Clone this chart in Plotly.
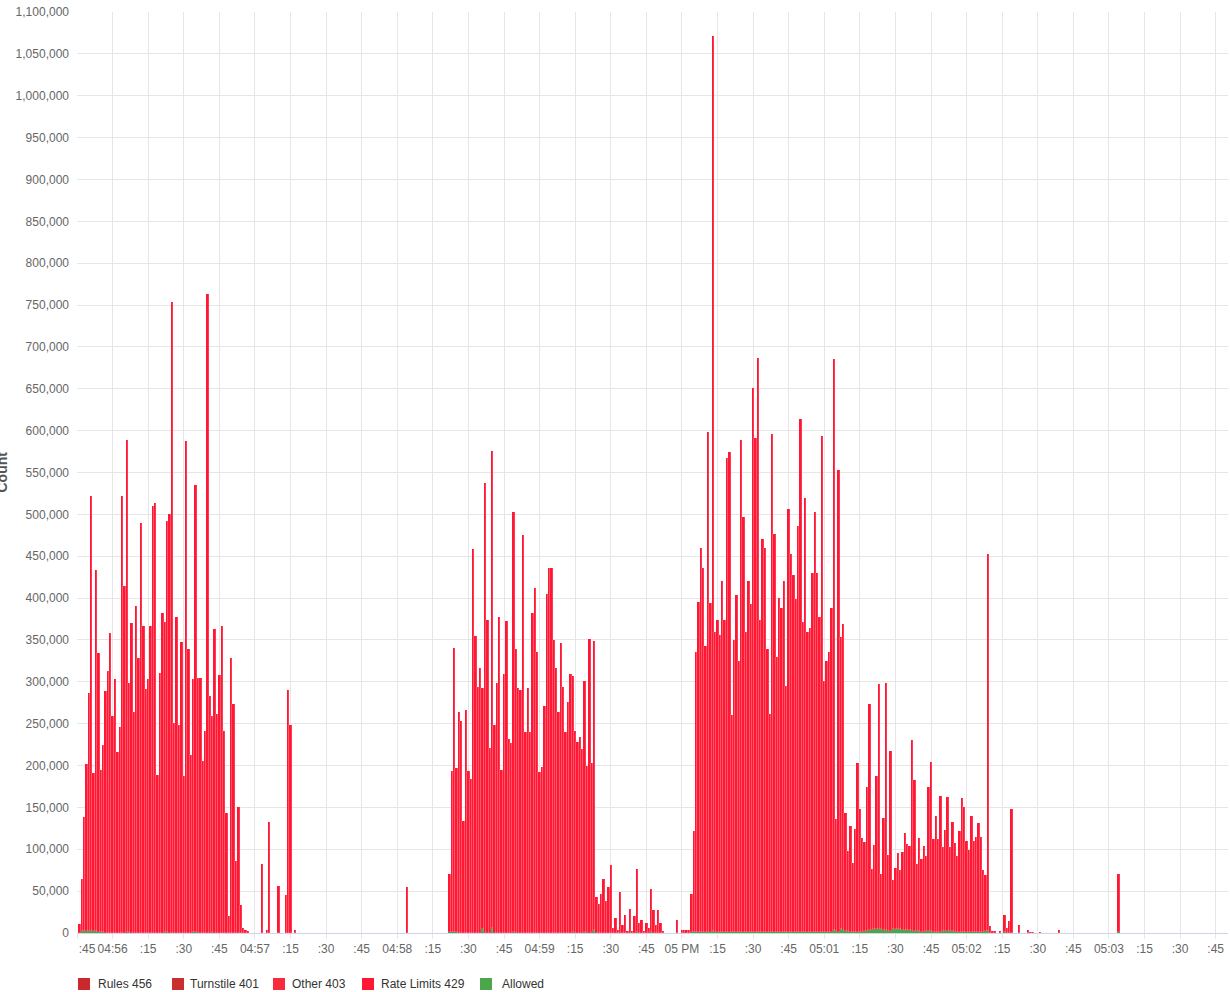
import plotly.graph_objects as go
from datetime import datetime, timedelta

DAY = "2024-01-01"
AXIS_START = "16:55:45"
AXIS_END_SECONDS = 485.2

# ---- per-second counts (each bar = 1 second) ----
C1_START = "16:55:46"
C1_TOTAL = [11000, 65000, 139000, 202000, 287000, 522000, 191000, 434000, 334000, 195000,
            225000, 289000, 313000, 358000, 259000, 303000, 216000, 246000, 522000, 415000,
            589000, 298000, 370000, 264000, 391000, 329000, 490000, 367000, 292000, 303000,
            367000, 510000, 514000, 189000, 311000, 382000, 371000, 492000, 500000, 754000,
            251000, 378000, 248000, 348000, 187000, 588000, 339000, 213000, 303000, 535000,
            304000, 304000, 206000, 241000, 763000, 283000, 259000, 363000, 262000, 308000,
            367000, 241000, 143000, 20000, 328000, 274000, 86000, 150000, 33000, 6000,
            3000, 2000]
C1_ALLOWED = [500, 1800, 2000, 2000, 1800, 2400, 2600, 2000, 1200, 1200,
              800, 600, 500, 600, 500, 400, 500, 600, 500, 400,
              800, 800, 500, 400, 400, 500, 400, 400, 500, 400,
              400, 400, 500, 400, 400, 400, 800, 800, 400, 400,
              500, 400, 400, 400, 400, 400, 400, 400, 800, 800,
              500, 400, 400, 400, 400, 500, 800, 400, 400, 400,
              400, 400, 300, 200, 400, 300, 200, 200, 100, 0,
              0, 0]

C2_START = "16:58:22"
C2_TOTAL = [71000, 193000, 340000, 197000, 264000, 253000, 134000, 266000, 193000, 184000,
            459000, 355000, 294000, 317000, 293000, 538000, 374000, 221000, 576000, 248000,
            299000, 377000, 195000, 309000, 373000, 232000, 227000, 503000, 339000, 293000,
            290000, 475000, 240000, 293000, 240000, 382000, 412000, 336000, 192000, 198000,
            271000, 405000, 436000, 436000, 350000, 317000, 264000, 346000, 294000, 240000,
            276000, 309000, 307000, 241000, 228000, 234000, 220000, 301000, 199000, 351000,
            203000, 349000]
C2_ALLOWED = [1200, 1300, 1200, 1100, 400, 400, 400, 400, 400, 400,
              400, 400, 400, 400, 4500, 400, 400, 400, 5500, 400,
              400, 400, 400, 400, 400, 400, 400, 1500, 400, 400,
              400, 400, 400, 400, 400, 400, 400, 400, 400, 400,
              400, 400, 400, 400, 400, 400, 400, 400, 400, 400,
              400, 400, 800, 400, 400, 400, 400, 1000, 400, 400,
              1000, 3500]

C2_TAIL_START = "16:59:24"
C2_TAIL_TOTAL = [43000, 35000, 47000, 65000, 38000, 55000, 81000, 6000, 18000, 4000,
                 49000, 10000, 22000, 2000, 29000, 2000, 20000, 76000, 12000, 16000,
                 2000, 12000, 6000, 53000, 28000, 9000, 28000, 12000, 2000, 600,
                 600, 600, 600, 600, 16000, 600, 4000, 4000, 4000, 4000]
C2_TAIL_ALLOWED = [300, 300, 300, 400, 300, 300, 300, 100, 200, 100,
                   300, 100, 200, 0, 200, 0, 200, 1000, 100, 200,
                   0, 100, 100, 1000, 200, 100, 200, 100, 0, 0,
                   0, 0, 0, 0, 600, 0, 200, 200, 200, 200]

C3_START = "17:00:04"
C3_TOTAL = [47000, 122000, 336000, 395000, 460000, 436000, 343000, 598000, 394000, 1071000,
            360000, 374000, 356000, 420000, 374000, 567000, 574000, 260000, 350000, 404000,
            325000, 589000, 497000, 360000, 420000, 393000, 651000, 591000, 687000, 374000,
            470000, 460000, 339000, 262000, 596000, 477000, 330000, 400000, 388000, 421000,
            295000, 506000, 453000, 427000, 399000, 486000, 614000, 371000, 520000, 360000,
            364000, 430000, 503000, 430000, 378000, 594000, 301000, 325000, 336000, 388000,
            685000, 136000, 553000, 353000, 369000, 143000, 98000, 128000, 84000, 124000,
            203000, 148000, 114000, 109000, 174000, 274000, 76000, 105000, 188000, 297000,
            70000, 137000, 298000, 93000, 217000, 63000, 78000, 96000, 75000, 97000,
            120000, 106000, 104000, 230000, 183000, 83000, 113000, 88000, 104000, 92000,
            174000, 204000, 112000, 140000, 112000, 164000, 103000, 123000, 163000, 103000,
            132000, 107000, 92000, 122000, 161000, 151000, 110000, 99000, 140000, 110000,
            115000, 131000, 115000, 75000, 69000, 453000]
C3_ALLOWED = [800, 1000, 1200, 1000, 1000, 1200, 1000, 1000, 1500, 2500,
              1000, 1200, 1000, 1000, 1200, 1000, 1000, 1200, 1000, 1000,
              1200, 1000, 1000, 1200, 1000, 1000, 1500, 1200, 1000, 1000,
              1200, 1000, 1000, 1200, 1000, 1500, 1200, 1000, 1000, 1200,
              1000, 1000, 1200, 1000, 1500, 1200, 1000, 1000, 1200, 1000,
              1000, 1200, 1000, 1000, 1200, 1000, 1200, 1000, 1000, 1500,
              3000, 2500, 1500, 4800, 3000, 2400, 2000, 1600, 1600, 1600,
              1200, 1200, 1200, 2000, 2000, 3600, 3600, 4800, 4800, 4800,
              4400, 3600, 3600, 2000, 2000, 4800, 4800, 4800, 4400, 3600,
              3600, 3600, 3200, 2800, 2800, 2800, 2400, 1600, 1600, 2400,
              2400, 2400, 1600, 1600, 1600, 1600, 2400, 2400, 2400, 2400,
              2000, 1200, 1200, 1200, 1200, 1200, 800, 800, 800, 800,
              800, 800, 800, 800, 2400, 2400]

SPORADIC_TIMES = ["16:57:03", "16:57:05", "16:57:06", "16:57:10", "16:57:13", "16:57:14",
                  "16:57:15", "16:57:17", "16:58:04", "17:02:10", "17:02:11", "17:02:12",
                  "17:02:14", "17:02:16", "17:02:17", "17:02:18", "17:02:19", "17:02:22",
                  "17:02:26", "17:02:27", "17:02:28", "17:02:31", "17:02:39", "17:02:45",
                  "17:02:53", "17:02:56", "17:03:04", "17:03:32", "17:03:43"]
SPORADIC_TOTAL = [82000, 3500, 133000, 56000, 45000, 290000,
                  248000, 3000, 55000, 8000, 2000, 2000,
                  2000, 21000, 6000, 14000, 148000, 9000,
                  4000, 1000, 1000, 1000, 3000, 500,
                  600, 400, 70000, 500, 400]
SPORADIC_ALLOWED = [300, 0, 400, 200, 200, 600,
                    500, 0, 200, 300, 100, 100,
                    100, 800, 200, 300, 600, 200,
                    100, 0, 0, 0, 100, 0,
                    0, 0, 1600, 0, 0]

X_TICK_LABELS = [":45", "04:56", ":15", ":30", ":45", "04:57", ":15", ":30", ":45",
                 "04:58", ":15", ":30", ":45", "04:59", ":15", ":30", ":45", "05 PM",
                 ":15", ":30", ":45", "05:01", ":15", ":30", ":45", "05:02", ":15",
                 ":30", ":45", "05:03", ":15", ":30", ":45"]

LEGEND_NAMES = ["Rules 456", "Turnstile 401", "Other 403", "Rate Limits 429", "Allowed"]
LEGEND_COLORS = ["#c9282d", "#c8302e", "#f72a40", "#ff1733", "#4ea64a"]
LEGEND_SQUARE_X = [78, 172, 273, 362, 480]   # pixel positions of the legend swatches
LEGEND_TEXT_X = [96, 188, 290, 379, 500]

PLOT_L, PLOT_R, PLOT_T, PLOT_B = 77, 1228, 12, 933
FIG_W, FIG_H = 1230, 992


def ts(hms):
    return datetime.strptime(f"{DAY} {hms}", "%Y-%m-%d %H:%M:%S")


def px_to_paper_x(px):
    return (px - PLOT_L) / (PLOT_R - PLOT_L)


def px_to_paper_y(py):
    return (PLOT_B - py) / (PLOT_B - PLOT_T)


xs, tot, alw = [], [], []
for start, t_list, a_list in [(C1_START, C1_TOTAL, C1_ALLOWED),
                              (C2_START, C2_TOTAL, C2_ALLOWED),
                              (C2_TAIL_START, C2_TAIL_TOTAL, C2_TAIL_ALLOWED),
                              (C3_START, C3_TOTAL, C3_ALLOWED)]:
    t0 = ts(start)
    for i, (t, a) in enumerate(zip(t_list, a_list)):
        xs.append(t0 + timedelta(seconds=i))
        tot.append(t)
        alw.append(a)
for hms, t, a in zip(SPORADIC_TIMES, SPORADIC_TOTAL, SPORADIC_ALLOWED):
    xs.append(ts(hms))
    tot.append(t)
    alw.append(a)

rate = [t - a for t, a in zip(tot, alw)]

fig = go.Figure()
x0 = ts(AXIS_START)
fig.add_trace(go.Bar(x=xs, y=alw, name="Allowed", marker_color=LEGEND_COLORS[4],
                     marker_line_width=0, width=1000, showlegend=False))
fig.add_trace(go.Bar(x=xs, y=rate, name="Rate Limits 429", marker_color=LEGEND_COLORS[3],
                     marker_line=dict(color="rgba(255,255,255,0.3)", width=0.5),
                     width=1000, showlegend=False))

tickvals = [x0 + timedelta(seconds=15 * i) for i in range(len(X_TICK_LABELS))]
ticktext = list(X_TICK_LABELS)
ticktext[0] = "\u00a0" * 6 + ticktext[0]

shapes = []
annotations = [dict(text="<b>Count</b>", xref="paper", yref="paper",
                    x=px_to_paper_x(1), y=0.5, xanchor="center", yanchor="middle",
                    textangle=-90, showarrow=False,
                    font=dict(size=14, color="#555555"))]
legend_cy = 984
for name, col, sx, tx in zip(LEGEND_NAMES, LEGEND_COLORS, LEGEND_SQUARE_X, LEGEND_TEXT_X):
    shapes.append(dict(type="rect", xref="paper", yref="paper",
                       x0=px_to_paper_x(sx), x1=px_to_paper_x(sx + 12),
                       y0=px_to_paper_y(legend_cy - 6), y1=px_to_paper_y(legend_cy + 6),
                       fillcolor=col, line=dict(width=0), layer="above"))
    annotations.append(dict(text=name, xref="paper", yref="paper",
                            x=px_to_paper_x(tx), y=px_to_paper_y(legend_cy),
                            xanchor="left", yanchor="middle", showarrow=False,
                            font=dict(size=12, color="#333333")))

fig.update_layout(
    width=FIG_W, height=FIG_H,
    margin=dict(l=PLOT_L, r=FIG_W - PLOT_R, t=PLOT_T, b=FIG_H - PLOT_B),
    paper_bgcolor="white", plot_bgcolor="white",
    barmode="stack",
    font=dict(family="Liberation Sans, Arial, sans-serif", size=12, color="#666666"),
    showlegend=False,
    xaxis=dict(type="date", range=[x0, x0 + timedelta(seconds=AXIS_END_SECONDS)],
               tickvals=tickvals, ticktext=ticktext, tickangle=0, automargin=False,
               showgrid=True, gridcolor="#e6e6e6", gridwidth=1, showline=True,
               linecolor="#ccd6eb", ticks="outside", ticklen=5, tickcolor="#e6e6e6",
               zeroline=False, tickfont=dict(size=12, color="#666666")),
    yaxis=dict(range=[0, 1100000], dtick=50000, tickformat=",d", showgrid=True,
               gridcolor="#e6e6e6", gridwidth=1, zeroline=False, ticks="",
               automargin=False, ticklabelstandoff=7,
               tickfont=dict(size=12, color="#666666")),
    bargap=0,
    shapes=shapes,
    annotations=annotations,
)

fig.write_html("out.html", config={"displayModeBar": False},
               post_script="document.body.style.margin='0';document.body.style.overflow='hidden';")
